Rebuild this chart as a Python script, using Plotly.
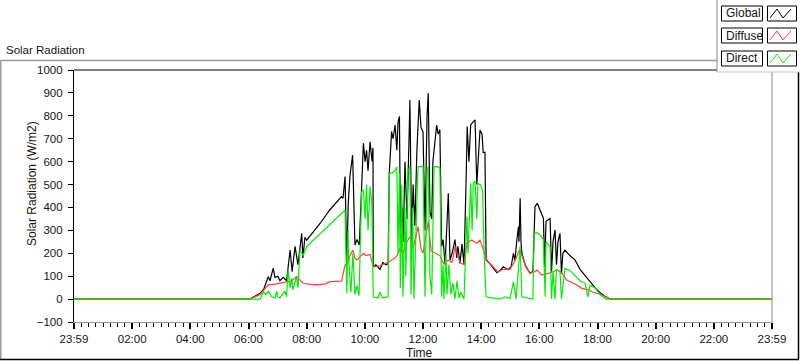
import plotly.graph_objects as go

# ---------------- data (time in hours of day, values in W/m2) ----------------
global_t = [0, 6.05, 6.40, 6.53, 6.60, 6.68, 6.74, 6.85, 6.91, 7.01, 7.08, 7.19, 7.31, 7.43, 7.50, 7.60,
            7.70, 7.83, 7.87, 7.94, 8.00, 8.46, 8.80, 9.20, 9.25, 9.32, 9.38, 9.43, 9.49, 9.58, 9.66,
            9.73, 9.81, 9.87, 9.95, 10.01, 10.06, 10.11, 10.18, 10.25, 10.28, 10.29, 10.38, 10.52,
            10.62, 10.73, 10.80, 10.84, 10.92, 10.97, 11.04, 11.10, 11.14, 11.19, 11.23, 11.28, 11.32,
            11.38, 11.45, 11.52, 11.55, 11.61, 11.66, 11.72, 11.79, 11.87, 11.93, 12.00, 12.07, 12.14,
            12.18, 12.24, 12.30, 12.34, 12.41, 12.47, 12.52, 12.58, 12.64, 12.69, 12.76, 12.81, 12.87,
            12.93, 13.00, 13.10, 13.16, 13.20, 13.27, 13.34, 13.41, 13.48, 13.52, 13.58, 13.64, 13.73,
            13.79, 13.85, 13.89, 13.96, 14.03, 14.07, 14.13, 14.17, 14.30, 14.42, 14.54, 14.65, 14.76,
            14.92, 15.03, 15.11, 15.16, 15.23, 15.28, 15.30, 15.34, 15.37, 15.40, 15.51, 15.68, 15.78,
            15.85, 15.93, 16.02, 16.14, 16.18, 16.23, 16.37, 16.42, 16.47, 16.54, 16.59, 16.64, 16.71,
            16.76, 16.81, 16.88, 17.05, 17.23, 17.40, 17.57, 17.67, 17.74, 17.85, 17.91, 18.09, 18.26,
            18.43, 24]
global_v = [0, 0, 25, 45, 70, 98, 80, 135, 95, 100, 80, 95, 80, 214, 120, 230,
            150, 287, 180, 270, 257, 330, 390, 447, 440, 535, 158, 420, 540, 629, 236,
            260, 236, 400, 680, 600, 650, 560, 687, 600, 660, 141, 150, 130,
            160, 150, 155, 549, 731, 700, 760, 650, 770, 797, 200, 400, 250,
            600, 350, 700, 869, 250, 500, 320, 650, 869, 750, 730, 300, 800,
            899, 380, 350, 600, 700, 760, 720, 740, 230, 260, 150, 330, 462,
            170, 200, 260, 180, 230, 156, 240, 150, 506, 753, 600, 760, 775,
            782, 500, 600, 738, 720, 640, 640, 171, 155, 134, 115, 125, 141,
            128, 141, 200, 170, 260, 316, 250, 440, 250, 200, 150, 113, 120,
            403, 418, 390, 353, 140, 340, 353, 120, 250, 302, 150, 250, 287,
            110, 200, 214, 190, 170, 130, 105, 90, 80, 60, 50, 28, 12,
            0, 0]

diffuse_t = [0, 6.05, 6.40, 6.57, 6.68, 6.91, 7.31, 7.50, 7.65, 7.77, 7.88, 8.12, 8.34, 8.63, 8.80,
             9.20, 9.32, 9.43, 9.49, 9.59, 9.66, 9.73, 9.83, 9.95, 10.04, 10.18, 10.29, 10.52, 10.69,
             10.80, 11.09, 11.21, 11.32, 11.41, 11.55, 11.66, 11.83, 11.93, 12.00, 12.18, 12.28, 12.41,
             12.58, 12.70, 12.86, 13.00, 13.10, 13.20, 13.27, 13.41, 13.51, 13.67, 13.85, 13.96, 14.13,
             14.20, 14.42, 14.58, 14.76, 14.99, 15.16, 15.31, 15.40, 15.54, 15.68, 15.85, 15.93, 16.08,
             16.23, 16.42, 16.60, 16.76, 16.94, 17.23, 17.46, 17.68, 17.85, 18.09, 18.32, 18.43, 24]
diffuse_v = [0, 0, 20, 45, 62, 65, 76, 80, 98, 85, 69, 64, 62, 66, 76,
             78, 149, 160, 190, 214, 180, 170, 185, 200, 190, 195, 141, 145, 155,
             160, 185, 222, 200, 240, 272, 220, 316, 220, 200, 338, 210, 200,
             190, 156, 170, 160, 229, 190, 160, 150, 244, 258, 244, 258, 200,
             170, 140, 118, 130, 130, 165, 214, 190, 140, 113, 120, 127, 105,
             110, 116, 127, 116, 83, 66, 47, 40, 30, 22, 8, 0, 0]

direct_t = [0, 6.05, 6.40, 6.51, 6.60, 6.68, 6.80, 6.91, 6.97, 7.01, 7.08, 7.25, 7.31, 7.36, 7.43,
            7.49, 7.53, 7.65, 7.70, 7.77, 7.88, 8.00, 9.32, 9.38, 9.42, 9.45, 9.52, 9.59, 9.66, 9.73,
            9.80, 9.89, 9.95, 10.01, 10.06, 10.11, 10.18, 10.24, 10.29, 10.45, 10.52, 10.62, 10.80,
            10.84, 10.94, 11.04, 11.10, 11.14, 11.19, 11.22, 11.27, 11.31, 11.38, 11.41, 11.48, 11.55,
            11.59, 11.64, 11.69, 11.76, 11.83, 11.90, 12.00, 12.07, 12.14, 12.18, 12.24, 12.30, 12.38,
            12.47, 12.58, 12.64, 12.69, 12.72, 12.79, 12.82, 12.89, 12.96, 13.03, 13.10, 13.17, 13.24,
            13.30, 13.41, 13.45, 13.51, 13.55, 13.64, 13.69, 13.73, 13.79, 13.85, 13.89, 13.99, 14.05,
            14.10, 14.17, 14.65, 14.82, 14.99, 15.11, 15.20, 15.28, 15.34, 15.40, 15.78, 15.82, 15.92,
            16.02, 16.14, 16.20, 16.23, 16.37, 16.42, 16.47, 16.54, 16.59, 16.71, 16.76, 16.88, 17.05,
            17.23, 17.40, 17.57, 17.67, 17.74, 17.91, 18.09, 18.29, 24]
direct_v = [0, 0, 0, 32, 20, 35, 10, 5, 35, 10, 5, 35, 10, 127, 50,
            90, 40, 98, 50, 214, 190, 229, 389, 25, 300, 160, 30, 200, 20, 60,
            15, 469, 476, 350, 500, 300, 491, 420, 10, 5, 30, 5, 10,
            549, 550, 560, 578, 200, 550, 50, 500, 10, 400, 100, 560, 578,
            20, 400, 0, 300, 578, 578, 580, 10, 560, 578, 100, 20, 578,
            578, 575, 10, 150, 0, 200, 20, 150, 20, 70, 0, 80, 5,
            30, 0, 150, 360, 200, 506, 300, 506, 515, 350, 505, 498, 470,
            200, 10, 0, 10, 2, 76, 0, 130, 229, 10, 0, 287, 290,
            280, 260, 10, 250, 229, 0, 120, 0, 130, 120, 0, 134, 125,
            100, 80, 70, 10, 60, 50, 20, 0, 0]

tick_vals = [0, 2, 4, 6, 8, 10, 12, 14, 16, 18, 20, 22, 24]
tick_text = ["23:59", "02:00", "04:00", "06:00", "08:00", "10:00", "12:00",
             "14:00", "16:00", "18:00", "20:00", "22:00", "23:59"]
series_names = ["Global", "Diffuse", "Direct"]
series_colors = ["#000000", "#ff4040", "#00ee00"]

# ---------------- layout geometry (pixels) ----------------
W, H = 800, 361
L, R, T, B = 74, 772, 70, 322


def px(x):
    return (x - L) / (R - L)


def py(y):
    return (B - y) / (B - T)


FONT = "Liberation Sans"
TXT = "#141414"

fig = go.Figure()
for name, t, v, c in zip(series_names, [global_t, diffuse_t, direct_t],
                         [global_v, diffuse_v, direct_v], series_colors):
    fig.add_trace(go.Scatter(x=t, y=v, mode="lines", name=name,
                             line=dict(color=c, width=1.2), showlegend=False))

shapes = []
# outer frame
shapes.append(dict(type="line", xref="paper", yref="paper", x0=px(0.5), x1=px(717), y0=py(60.5), y1=py(60.5),
                   line=dict(color="#9a9a9a", width=1.5)))
shapes.append(dict(type="line", xref="paper", yref="paper", x0=px(0.8), x1=px(0.8), y0=py(60.5), y1=py(359.5),
                   line=dict(color="#9a9a9a", width=1.5)))
shapes.append(dict(type="line", xref="paper", yref="paper", x0=px(0), x1=px(799), y0=py(359.5), y1=py(359.5),
                   line=dict(color="#000000", width=1.5)))
shapes.append(dict(type="line", xref="paper", yref="paper", x0=px(798.5), x1=px(798.5), y0=py(60), y1=py(359.5),
                   line=dict(color="#000000", width=1.5)))
# plot area top and right borders
shapes.append(dict(type="line", xref="paper", yref="paper", x0=0, x1=1, y0=1, y1=1,
                   line=dict(color="#000000", width=1.2)))
shapes.append(dict(type="line", xref="paper", yref="paper", x0=1, x1=1, y0=0, y1=1,
                   line=dict(color="#9a9a9a", width=1.2)))
# legend panel
shapes.append(dict(type="rect", xref="paper", yref="paper", x0=px(717), x1=px(801), y0=py(72), y1=py(-1),
                   fillcolor="white", line=dict(width=0), layer="above"))
shapes.append(dict(type="line", xref="paper", yref="paper", x0=px(717), x1=px(717), y0=py(72), y1=py(0),
                   line=dict(color="#9a9a9a", width=1.2), layer="above"))
shapes.append(dict(type="line", xref="paper", yref="paper", x0=px(717), x1=px(800), y0=py(72), y1=py(72),
                   line=dict(color="#c8c8c8", width=1), layer="above"))

annotations = []
rows = [(6, 21), (28, 43), (51, 66)]
for (y0, y1), name, c in zip(rows, series_names, series_colors):
    shapes.append(dict(type="rect", xref="paper", yref="paper", x0=px(721.5), x1=px(762.5), y0=py(y1), y1=py(y0),
                       line=dict(color="black", width=1), fillcolor="white", layer="above"))
    shapes.append(dict(type="rect", xref="paper", yref="paper", x0=px(767.5), x1=px(796.5), y0=py(y1), y1=py(y0),
                       line=dict(color="black", width=1), fillcolor="white", layer="above"))
    pts = [(770, y1 - 3), (777, y0 + 3), (783, y1 - 3), (791, y0 + 3)]
    path = "M " + " L ".join(f"{px(a):.5f},{py(b):.5f}" for a, b in pts)
    shapes.append(dict(type="path", xref="paper", yref="paper", path=path,
                       line=dict(color=c, width=1), layer="above"))
    annotations.append(dict(text=name, xref="paper", yref="paper", x=px(724), y=py((y0 + y1) / 2),
                            xanchor="left", yanchor="middle", showarrow=False,
                            font=dict(family=FONT, size=12, color=TXT)))

annotations.append(dict(text="Solar Radiation", xref="paper", yref="paper", x=px(4), y=py(50),
                        xanchor="left", yanchor="middle", showarrow=False,
                        font=dict(family=FONT, size=11.5, color=TXT)))
annotations.append(dict(text="Solar Radiation (W/m2)", xref="paper", yref="paper", x=px(32), y=py(184),
                        xanchor="center", yanchor="middle", textangle=-90, showarrow=False,
                        font=dict(family=FONT, size=12, color=TXT)))
annotations.append(dict(text="Time", xref="paper", yref="paper", x=px(419), y=py(353),
                        xanchor="center", yanchor="middle", showarrow=False,
                        font=dict(family=FONT, size=12, color=TXT)))

fig.update_layout(
    width=W, height=H,
    margin=dict(l=L, r=W - R, t=T, b=H - B, pad=0),
    paper_bgcolor="white", plot_bgcolor="white",
    showlegend=False,
    shapes=shapes, annotations=annotations,
    xaxis=dict(range=[0, 24], tickvals=tick_vals, ticktext=tick_text, showgrid=False, zeroline=False,
               showline=True, linecolor="#9a9a9a", linewidth=1,
               ticks="outside", ticklen=6, tickwidth=2, tickcolor="black",
               minor=dict(dtick=0.25, tick0=0, ticks="outside", ticklen=4, tickwidth=1, tickcolor="black",
                          showgrid=False),
               tickfont=dict(family=FONT, size=11.5, color=TXT)),
    yaxis=dict(range=[-100, 1000], dtick=100, tick0=0, showgrid=False, zeroline=False,
               showline=True, linecolor="black", linewidth=1.2,
               ticks="outside", ticklen=5, tickwidth=1, tickcolor="black", ticklabelstandoff=3,
               tickfont=dict(family=FONT, size=11.5, color=TXT)),
)

fig.write_html("out.html", config={"displayModeBar": False},
               post_script="document.body.style.margin='0px';document.body.style.overflow='hidden';")
